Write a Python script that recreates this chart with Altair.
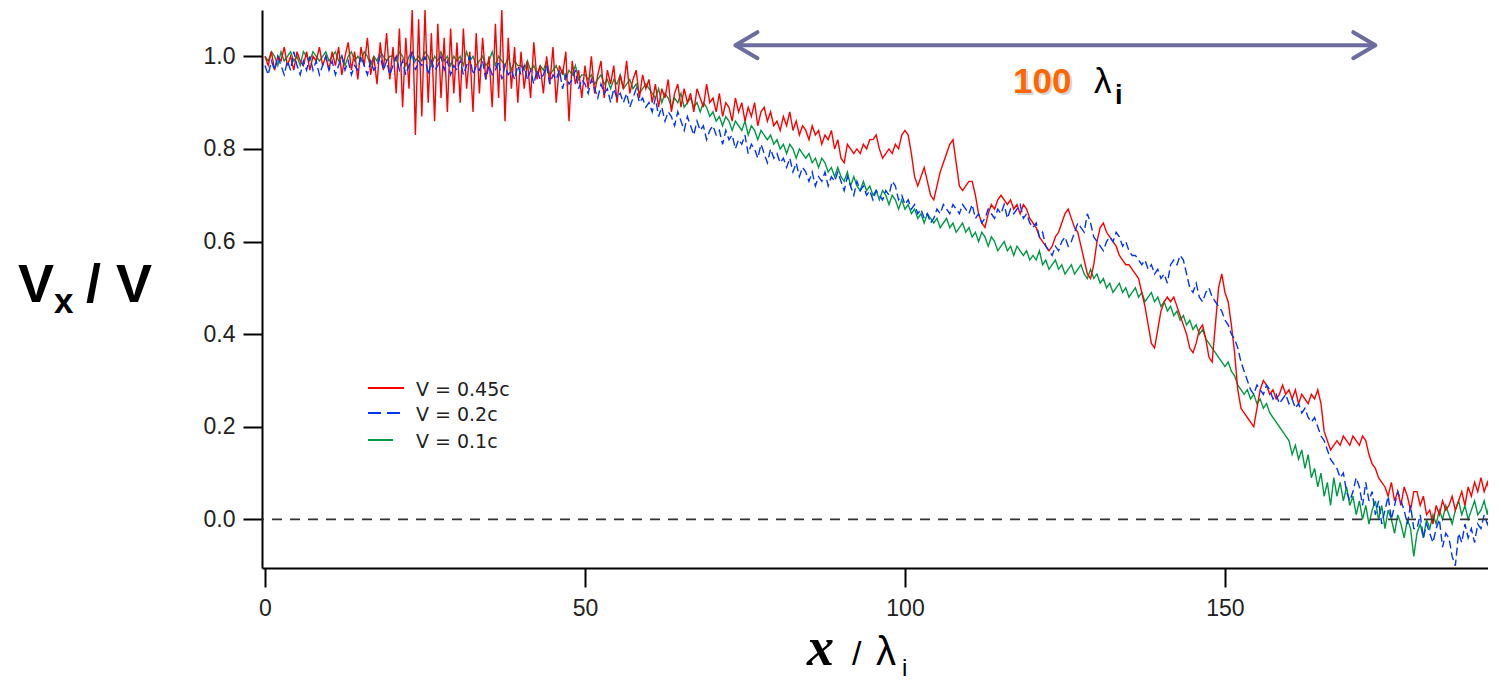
import altair as alt
import numpy as np
import pandas as pd

# ---------------- data (values in hundredths of V, sampled every 0.5 lambda_i from x = 0) ----------------
X_START = 0.0
X_STEP = 0.5

red_045c = [
    100, 98, 101, 97, 100, 99, 102, 98, 100, 97, 101, 99, 98, 101, 97, 100, 99, 102, 98, 100,
    97, 101, 98, 102, 96, 100, 103, 97, 101, 95, 102, 98, 104, 96, 100, 94, 103, 97, 105, 95,
    102, 92, 106, 89, 104, 93, 110, 83, 108, 87, 110, 90, 105, 86, 107, 91, 104, 88, 106, 92,
    103, 90, 106, 93, 101, 88, 105, 92, 104, 95, 100, 89, 107, 91, 110, 86, 104, 93, 102, 90,
    101, 93, 99, 91, 103, 95, 98, 92, 100, 94, 102, 90, 98, 96, 101, 86, 99, 94, 97, 91,
    98, 93, 100, 92, 96, 99, 91, 97, 94, 98, 90, 96, 93, 99, 92, 95, 97, 91, 96, 93,
    95, 90, 94, 89, 93, 91, 95, 88, 92, 94, 89, 93, 90, 92, 88, 93, 91, 89, 94, 90,
    91, 88, 92, 87, 90, 89, 86, 91, 88, 90, 86, 89, 87, 90, 85, 88, 89, 86, 88, 85,
    86, 84, 87, 85, 88, 84, 86, 83, 85, 84, 82, 85, 83, 84, 81, 83, 82, 84, 80, 82,
    78, 77, 81, 80, 79, 80, 79, 81, 80, 82, 82, 83, 80, 78, 79, 80, 79, 81, 80, 83,
    84, 83, 79, 74, 72, 74, 76, 73, 70, 69, 72, 75, 77, 79, 81, 82, 77, 72, 71, 72,
    73, 73, 70, 66, 64, 63, 66, 68, 67, 69, 70, 69, 68, 69, 67, 68, 66, 68, 67, 65,
    64, 63, 61, 60, 59, 58, 59, 61, 62, 64, 66, 67, 65, 63, 62, 59, 56, 53, 52, 55,
    60, 63, 64, 62, 61, 60, 59, 57, 56, 55, 55, 54, 53, 52, 49, 46, 42, 38, 37, 41,
    45, 47, 48, 47, 48, 46, 44, 42, 40, 37, 36, 38, 41, 42, 39, 35, 34, 42, 50, 53,
    49, 47, 42, 36, 28, 24, 23, 22, 21, 20, 24, 28, 30, 29, 27, 28, 26, 27, 29, 27,
    28, 26, 28, 25, 27, 26, 25, 27, 26, 28, 25, 19, 17, 15, 16, 17, 16, 18, 17, 16,
    18, 17, 16, 18, 17, 14, 12, 11, 9, 8, 7, 5, 8, 4, 6, 3, 7, 5, 2, 6,
    6, 3, 5, 1, 2, -1, 3, 1, 4, 2, 3, 5, 2, 4, 6, 3, 7, 5, 8, 6,
    9, 6, 8, 5,
]

blue_02c = [
    98, 96, 99, 97, 100, 98, 96, 99, 97, 101, 98, 96, 99, 97, 100, 97, 99, 96, 98, 100,
    97, 99, 96, 98, 100, 97, 99, 96, 98, 97, 100, 98, 96, 99, 97, 98, 100, 97, 99, 96,
    98, 100, 97, 99, 96, 98, 101, 97, 99, 98, 100, 96, 99, 97, 98, 100, 97, 99, 96, 98,
    97, 99, 96, 98, 100, 96, 98, 97, 99, 95, 98, 96, 97, 99, 95, 98, 96, 97, 95, 98,
    96, 98, 95, 97, 94, 97, 95, 96, 98, 94, 96, 95, 97, 93, 96, 94, 95, 97, 93, 95,
    94, 92, 95, 93, 91, 94, 92, 93, 90, 93, 91, 92, 90, 92, 89, 91, 93, 90, 91, 89,
    90, 88, 91, 87, 89, 86, 88, 87, 85, 88, 86, 84, 87, 85, 83, 86, 84, 85, 82, 84,
    85, 83, 84, 81, 84, 82, 83, 80, 82, 81, 83, 79, 81, 80, 78, 81, 79, 77, 80, 78,
    79, 77, 78, 76, 78, 75, 77, 74, 76, 75, 73, 75, 72, 74, 73, 75, 72, 74, 73, 75,
    73, 71, 74, 72, 70, 73, 71, 72, 70, 71, 69, 71, 70, 69, 71, 70, 73, 72, 69, 70,
    68, 69, 67, 68, 66, 67, 65, 66, 64, 65, 67, 66, 68, 67, 66, 68, 67, 66, 68, 67,
    66, 68, 65, 66, 64, 65, 67, 66, 65, 67, 66, 68, 65, 67, 66, 67, 68, 65, 66, 64,
    63, 64, 61, 62, 59, 58, 57, 59, 58, 60, 61, 59, 60, 62, 64, 63, 62, 66, 64, 61,
    60, 59, 58, 60, 61, 60, 62, 61, 59, 60, 58, 57, 57, 56, 55, 56, 54, 55, 53, 54,
    52, 53, 51, 55, 56, 55, 57, 56, 53, 50, 49, 51, 48, 47, 49, 50, 48, 47, 46, 45,
    43, 42, 40, 39, 37, 34, 32, 30, 28, 27, 29, 28, 27, 29, 28, 26, 27, 25, 26, 27,
    25, 26, 24, 25, 23, 24, 22, 21, 22, 20, 18, 17, 15, 13, 12, 11, 9, 10, 6, 4,
    6, 9, 7, 3, 8, 4, 6, 1, 4, -1, 2, 5, 0, 3, 6, 4, 2, -1, 3, -2,
    -2, 1, -4, -1, -3, -5, -2, 0, -6, -3, -4, -8, -10, -3, -5, -1, -4, -2, -5, -1,
    -2, 1, -1, 2,
]

green_01c = [
    100, 99, 101, 100, 98, 101, 99, 100, 101, 99, 100, 98, 101, 100, 99, 101, 100, 99, 100, 101,
    99, 100, 101, 99, 100, 98, 100, 101, 99, 100, 99, 101, 100, 98, 100, 99, 101, 100, 99, 100,
    100, 99, 101, 100, 98, 100, 101, 99, 100, 99, 101, 100, 98, 100, 99, 101, 99, 100, 98, 100,
    99, 100, 98, 101, 99, 100, 98, 99, 100, 98, 99, 101, 98, 100, 99, 98, 100, 97, 99, 98,
    98, 97, 99, 97, 98, 96, 98, 97, 99, 96, 97, 98, 96, 97, 95, 97, 96, 98, 95, 96,
    96, 95, 96, 94, 95, 96, 94, 95, 93, 95, 94, 96, 93, 94, 95, 93, 94, 92, 93, 94,
    93, 92, 91, 93, 90, 92, 91, 89, 91, 90, 92, 89, 90, 91, 89, 90, 88, 90, 89, 87,
    88, 86, 87, 85, 87, 86, 84, 86, 85, 84, 86, 83, 85, 84, 82, 84, 83, 82, 83, 81,
    82, 80, 81, 79, 81, 80, 78, 80, 79, 78, 79, 77, 78, 76, 78, 77, 75, 76, 74, 76,
    74, 73, 75, 72, 74, 72, 71, 73, 71, 72, 70, 71, 69, 71, 70, 68, 70, 69, 67, 69,
    67, 68, 66, 67, 65, 66, 64, 66, 65, 64, 65, 63, 64, 65, 63, 64, 62, 63, 64, 62,
    63, 61, 62, 60, 62, 61, 59, 61, 60, 58, 59, 60, 58, 59, 57, 59, 58, 57, 58, 56,
    57, 56, 58, 55, 56, 54, 55, 56, 54, 55, 53, 54, 55, 53, 54, 55, 53, 52, 54, 52,
    53, 51, 52, 50, 51, 49, 50, 51, 49, 50, 48, 49, 50, 48, 49, 47, 48, 49, 47, 48,
    46, 47, 45, 46, 44, 45, 43, 44, 42, 43, 41, 42, 40, 41, 39, 38, 37, 36, 35, 34,
    33, 34, 32, 31, 29, 28, 27, 28, 26, 27, 25, 26, 24, 25, 23, 22, 21, 20, 19, 18,
    17, 14, 16, 13, 15, 11, 14, 9, 11, 7, 10, 5, 8, 3, 9, 5, 8, 4, 7, 3,
    5, 1, 4, 0, 3, -1, 2, 4, 0, 3, -2, 2, 0, -3, 1, -1, -4, 0, -2, -8,
    -3, -1, -4, 0, -2, 1, -1, 2, 0, 3, 1, -1, 2, 4, 1, 3, 0, 2, 4, 1,
    2, 4, 1, 5,
]

series_names = ["V = 0.45c", "V = 0.2c", "V = 0.1c"]
series_colors = ["#ff0000", "#0033ff", "#009944"]
x_ticks = [0, 50, 100, 150]
y_ticks = [0.0, 0.2, 0.4, 0.6, 0.8, 1.0]
arrow_from, arrow_to, arrow_y = 73.5, 173.5, 1.024

# ---------------- build table ----------------
rows = []
for name, vals in zip(series_names, [red_045c, blue_02c, green_01c]):
    xs = X_START + X_STEP * np.arange(len(vals))
    rows.append(pd.DataFrame({"x": xs, "v": np.array(vals) / 100.0, "series": name}))
df = pd.concat(rows, ignore_index=True)

W, H = 1226, 558
xscale = alt.Scale(domain=[-0.47, 191.1], nice=False, zero=False)
yscale = alt.Scale(domain=[-0.105, 1.1], nice=False, zero=False)

LAB_FONT = "Liberation Sans"
xaxis = alt.Axis(values=x_ticks, title=None, grid=False, domainColor="black", domainWidth=2,
                 tickColor="black", tickWidth=2, tickSize=19, labelFont=LAB_FONT,
                 labelFontSize=23, labelColor="#222", labelPadding=10, format="d")
yaxis = alt.Axis(values=y_ticks, title=None, grid=False, domainColor="black", domainWidth=2,
                 tickColor="black", tickWidth=2, tickSize=19, labelFont=LAB_FONT,
                 labelFontSize=23, labelColor="#222", labelPadding=8, format=".1f")


def X(field):
    return alt.X(field, type="quantitative", scale=xscale, axis=xaxis)


def Y(field):
    return alt.Y(field, type="quantitative", scale=yscale, axis=yaxis)


def series_line(name, color, dash=None):
    kw = dict(color=color, strokeWidth=1.4, clip=True)
    if dash is not None:
        kw["strokeDash"] = dash
    return alt.Chart(df).transform_filter(alt.datum.series == name).mark_line(**kw).encode(
        x=X("x"), y=Y("v")
    )


green_line = series_line(series_names[2], series_colors[2])
red_line = series_line(series_names[0], series_colors[0])
blue_line = series_line(series_names[1], series_colors[1], dash=[8, 4])

zero_rule = alt.Chart(pd.DataFrame({"v": [0.0]})).mark_rule(
    color="#333", strokeWidth=1.6, strokeDash=[10, 8]
).encode(y=Y("v"))

# arrow annotation (spans 100 lambda_i)
arrow_df = pd.DataFrame({"x": [arrow_from], "x_end": [arrow_to], "v": [arrow_y]})
ARROW_C = "#6c6c9e"
arrow_line = alt.Chart(arrow_df).mark_rule(color=ARROW_C, strokeWidth=4).encode(
    x=X("x"), x2="x_end:Q", y=Y("v")
)
head_l = alt.Chart(arrow_df).mark_point(
    shape="M 1.7 -1 L 0 0 L 1.7 1", size=676, filled=False, stroke=ARROW_C, strokeWidth=4,
    strokeCap="round", strokeJoin="round", opacity=1
).encode(x=X("x"), y=Y("v"))
head_r = alt.Chart(pd.DataFrame({"x": [arrow_to], "v": [arrow_y]})).mark_point(
    shape="M -1.7 -1 L 0 0 L -1.7 1", size=676, filled=False, stroke=ARROW_C, strokeWidth=4,
    strokeCap="round", strokeJoin="round", opacity=1
).encode(x=X("x"), y=Y("v"))

one = pd.DataFrame({"k": [0]})


def txt(text, x, y, size, font=LAB_FONT, weight="normal", style="normal", color="black",
        opacity=1.0):
    return alt.Chart(one).mark_text(
        text=text, align="left", baseline="alphabetic", font=font, fontSize=size,
        fontWeight=weight, fontStyle=style, color=color, opacity=opacity
    ).encode(x=alt.value(x), y=alt.value(y))


# legend (manual)
leg_y = [378, 403, 430]
leg_len = [36, 33, 25]
legend_layers = []
for i, (name, col) in enumerate(zip(series_names, series_colors)):
    kw = dict(color=col, strokeWidth=2)
    if i == 1:
        kw["strokeDash"] = [13, 6]
    legend_layers.append(
        alt.Chart(one).mark_rule(**kw).encode(
            x=alt.value(106), x2=alt.value(106 + leg_len[i]), y=alt.value(leg_y[i])
        )
    )
    legend_layers.append(txt(name, 154, leg_y[i] + 8, 19, font="DejaVu Sans", color="#222"))

texts = [
    # y title  V_x / V
    txt("V", -244, 292, 54, weight="bold"),
    txt("x", -208, 303, 35, weight="bold"),
    txt("/ V", -176, 292, 54, weight="bold"),
    # x title  x / lambda_i
    txt("x", 545, 655, 54, font="Liberation Serif", weight="bold", style="italic"),
    txt("/", 590, 655, 34),
    txt("λ", 614, 655, 40),
    txt("i", 640, 666, 24),
    # 100 lambda_i
    txt("100", 753, 85, 35, weight="bold", color="#888888", opacity=0.35),
    txt("100", 751, 83, 35, weight="bold", color="#ff6600"),
    txt("λ", 832, 83, 35),
    txt("i", 853, 94, 27, weight="bold"),
]

chart = alt.layer(
    green_line, red_line, blue_line, zero_rule, arrow_line, head_l, head_r,
    *legend_layers, *texts
).properties(
    width=W, height=H,
    autosize=alt.AutoSizeParams(type="none"),
    padding={"left": 254, "top": 2, "right": 0, "bottom": 115},
).configure_view(stroke=None)

chart.save("out.html", embed_options={"renderer": "svg", "actions": False})
